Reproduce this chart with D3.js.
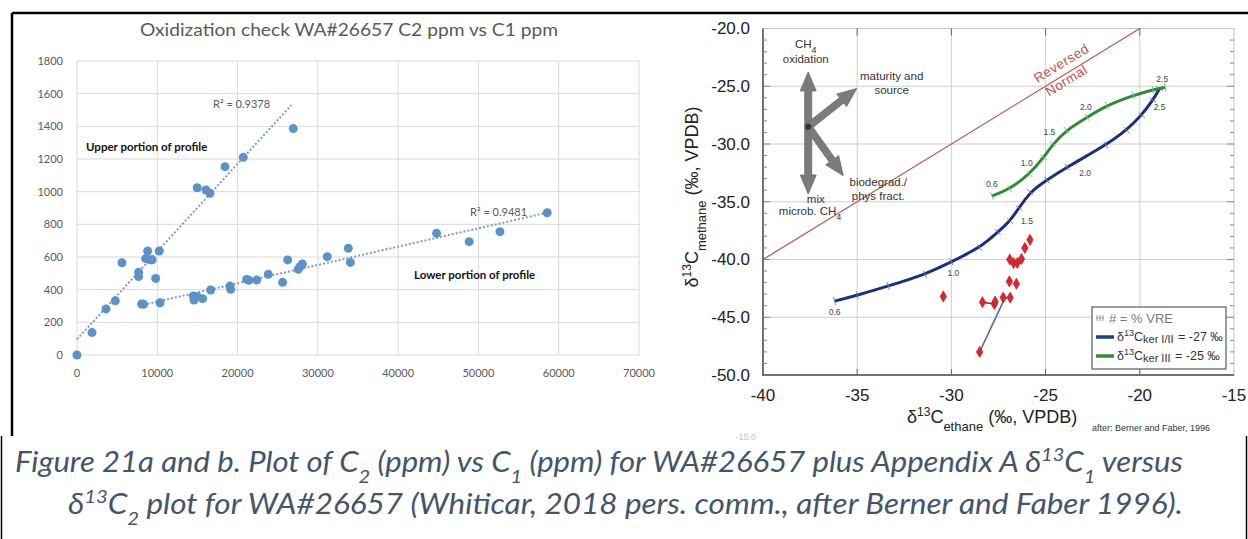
<!DOCTYPE html>
<html>
<head>
<meta charset="utf-8">
<script src="https://cdn.jsdelivr.net/npm/d3@7"></script>
<style>
  body { margin: 0; background: #fff; }
  svg { display: block; }
</style>
</head>
<body>
<svg id="fig" width="1248" height="539"></svg>
<script>
// ---------- left chart: C2 ppm vs C1 ppm ----------
const upperC1 = [0, 1870, 3610, 4770, 5600, 7680, 7680, 8800, 8550, 9050, 9350, 9800, 10250, 14970, 16060, 16560, 18430, 20710, 26940];
const upperC2 = [0, 137, 282, 332, 565, 506, 480, 637, 590, 583, 583, 469, 637, 1024, 1010, 990, 1153, 1210, 1386];
const lowerC1 = [8050, 8300, 10340, 14490, 14570, 14980, 15650, 16650, 19050, 19140, 21130, 21400, 22380, 23830, 25610, 26240, 27560, 27770, 28060, 31170, 33790, 34050, 44790, 48850, 52680, 58570];
const lowerC2 = [312, 310, 320, 361, 337, 357, 345, 398, 422, 402, 463, 457, 459, 494, 445, 582, 525, 541, 557, 602, 653, 567, 745, 694, 755, 871];
const upperTrendC1 = [0, 26700], upperTrendC2 = [96, 1530];
const lowerTrendC1 = [8300, 58600], lowerTrendC2 = [308, 872];
const leftXTicks = [0, 10000, 20000, 30000, 40000, 50000, 60000, 70000];
const leftYTicks = [0, 200, 400, 600, 800, 1000, 1200, 1400, 1600, 1800];

// ---------- right chart: d13C methane vs d13C ethane ----------
const keroIC2 = [-36.2, -35.0, -33.35, -31.4, -30.0, -28.5, -27.53, -26.89, -26.41, -25.83, -24.93, -23.86, -21.8, -20.7, -19.9, -19.3, -18.95];
const keroIC1 = [-43.6, -43.1, -42.3, -41.3, -40.2, -39.0, -37.62, -36.67, -35.54, -34.16, -33.12, -31.99, -30.1, -28.8, -27.5, -26.2, -25.2];
const keroIIIC2 = [-27.85, -26.9, -25.85, -25.1, -24.6, -23.9, -22.8, -21.75, -20.35, -19.3, -18.65];
const keroIIIC1 = [-34.5, -33.9, -32.6, -31.15, -30.0, -28.8, -27.7, -26.65, -25.8, -25.3, -25.1];
const keroIVre = ["0.6", "1.0", "1.5", "2.0", "2.5"], keroIVreIdx = [0, 4, 7, 11, 16];
const keroIIIVre = ["0.6", "1.0", "1.5", "2.0", "2.5"], keroIIIVreIdx = [0, 3, 5, 7, 10];
const sampleC2 = [-30.43, -28.5, -28.35, -27.72, -27.68, -27.25, -26.88, -26.92, -26.55, -26.9, -26.7, -26.5, -26.28, -26.1, -25.83];
const sampleC1 = [-43.2, -48.0, -43.7, -43.85, -43.65, -43.3, -43.3, -41.9, -42.1, -40.0, -40.3, -40.3, -39.95, -39.0, -38.3];
const sampleLinkC2 = [-28.5, -27.15], sampleLinkC1 = [-48.0, -43.3];
const rightXTicks = [-40, -35, -30, -25, -20, -15];
const rightYTicks = [-20, -25, -30, -35, -40, -45, -50];

const svg = d3.select("#fig");
const grey = "#595959";

// ================= LEFT CHART =================
const xL = d3.scaleLinear().domain([0, 70000]).range([77, 639]);
const yL = d3.scaleLinear().domain([0, 1800]).range([355, 61]);
const gL = svg.append("g");

gL.append("g").selectAll("line").data(leftYTicks).join("line")
  .attr("x1", xL(0)).attr("x2", xL(70000))
  .attr("y1", d => yL(d)).attr("y2", d => yL(d))
  .attr("stroke", "#d9d9d9").attr("stroke-width", 1);
gL.append("g").selectAll("line").data(leftXTicks).join("line")
  .attr("x1", d => xL(d)).attr("x2", d => xL(d))
  .attr("y1", yL(0)).attr("y2", yL(1800))
  .attr("stroke", "#d9d9d9").attr("stroke-width", 1);

gL.append("g").selectAll("text").data(leftYTicks).join("text")
  .attr("x", 63).attr("y", d => yL(d)).attr("dy", "0.35em")
  .attr("text-anchor", "end")
  .style("font", "11px Lato").attr("fill", grey)
  .text(d => d);
gL.append("g").selectAll("text").data(leftXTicks).join("text")
  .attr("x", d => xL(d)).attr("y", 373).attr("dy", "0.35em")
  .attr("text-anchor", "middle")
  .style("font", "11px Lato").attr("fill", grey)
  .text(d => d);

gL.append("text")
  .attr("x", 349).attr("y", 36).attr("text-anchor", "middle")
  .attr("textLength", 418).attr("lengthAdjust", "spacingAndGlyphs")
  .style("font", "17px Lato").attr("fill", grey)
  .text("Oxidization check WA#26657 C2 ppm vs C1 ppm");

const trendLine = d3.line().x(d => xL(d[0])).y(d => yL(d[1]));
[[upperTrendC1, upperTrendC2], [lowerTrendC1, lowerTrendC2]].forEach(([a, b]) => {
  gL.append("path")
    .attr("d", trendLine(d3.zip(a, b)))
    .attr("fill", "none").attr("stroke", "#7c9cc0")
    .attr("stroke-width", 2).attr("stroke-dasharray", "2,2");
});

const leftPts = d3.zip(upperC1, upperC2).concat(d3.zip(lowerC1, lowerC2));
gL.append("g").selectAll("circle").data(leftPts).join("circle")
  .attr("cx", d => xL(d[0])).attr("cy", d => yL(d[1])).attr("r", 4.5)
  .attr("fill", "#5b93c9");

gL.append("text").attr("x", 213).attr("y", 108)
  .style("font", "11px Lato").attr("fill", grey).text("R² = 0.9378");
gL.append("text").attr("x", 470).attr("y", 216)
  .style("font", "11px Lato").attr("fill", grey).text("R² = 0.9481");
gL.append("text").attr("x", 86).attr("y", 151)
  .style("font", "bold 11.5px Lato").attr("fill", "#111").text("Upper portion of profile");
gL.append("text").attr("x", 414).attr("y", 279)
  .style("font", "bold 11.5px Lato").attr("fill", "#111").text("Lower portion of profile");

// ================= RIGHT CHART =================
const xR = d3.scaleLinear().domain([-40, -15]).range([763, 1234]);
const yR = d3.scaleLinear().domain([-50, -20]).range([375, 28.5]);
const gR = svg.append("g");
const arial = "'Liberation Sans', Arial, sans-serif";

// grid
gR.append("g").selectAll("line").data([-35, -30, -25, -20]).join("line")
  .attr("x1", d => xR(d)).attr("x2", d => xR(d))
  .attr("y1", yR(-50)).attr("y2", yR(-20))
  .attr("stroke", "#cfcfd4");
gR.append("g").selectAll("line").data([-25, -30, -35, -40, -45]).join("line")
  .attr("x1", xR(-40)).attr("x2", xR(-15))
  .attr("y1", d => yR(d)).attr("y2", d => yR(d))
  .attr("stroke", "#cfcfd4");

// frame
gR.append("rect")
  .attr("x", xR(-40)).attr("y", yR(-20))
  .attr("width", xR(-15) - xR(-40)).attr("height", yR(-50) - yR(-20))
  .attr("fill", "none").attr("stroke", "#c4c4c8");
gR.append("path")
  .attr("d", `M${xR(-40)},${yR(-20)}V${yR(-50)}H${xR(-15)}`)
  .attr("fill", "none").attr("stroke", "#707078").attr("stroke-width", 2);

// minor ticks, left and right sides
const minorY = d3.range(-49, -20, 1);
gR.append("g").selectAll("line").data(minorY).join("line")
  .attr("x1", xR(-40)).attr("x2", d => xR(-40) + (d % 5 === 0 ? 7 : 4))
  .attr("y1", d => yR(d)).attr("y2", d => yR(d))
  .attr("stroke", "#888");
gR.append("g").selectAll("line").data(minorY).join("line")
  .attr("x1", xR(-15)).attr("x2", d => xR(-15) - (d % 5 === 0 ? 7 : 4))
  .attr("y1", d => yR(d)).attr("y2", d => yR(d))
  .attr("stroke", "#888");
// major ticks top and bottom
gR.append("g").selectAll("line").data([-35, -30, -25, -20]).join("line")
  .attr("x1", d => xR(d)).attr("x2", d => xR(d))
  .attr("y1", yR(-20)).attr("y2", yR(-20) + 7).attr("stroke", "#666");
gR.append("g").selectAll("line").data([-35, -30, -25, -20]).join("line")
  .attr("x1", d => xR(d)).attr("x2", d => xR(d))
  .attr("y1", yR(-50)).attr("y2", yR(-50) - 6).attr("stroke", "#666");

// tick labels (plain hyphen minus, as in the source figure)
gR.append("g").selectAll("text").data(rightYTicks).join("text")
  .attr("x", 750).attr("y", d => yR(d)).attr("dy", "0.35em")
  .attr("text-anchor", "end")
  .style("font", `17px ${arial}`).attr("fill", "#222")
  .text(d => d.toFixed(1));
gR.append("g").selectAll("text").data(rightXTicks).join("text")
  .attr("x", d => xR(d)).attr("y", 401).attr("text-anchor", "middle")
  .style("font", `17px ${arial}`).attr("fill", "#222")
  .text(d => d);
// faint remnant of a tick label peeking below the image
svg.append("text")
  .attr("x", 756).attr("y", 440).attr("text-anchor", "end")
  .style("font", `9px ${arial}`).attr("fill", "#c4c4c4").text("-15.0");

// axis titles with super/subscripts
function richText(g, parts) {
  parts.forEach(p => {
    const t = g.append("tspan").text(p.t);
    if (p.sup) t.attr("baseline-shift", "super").style("font-size", "12px");
    if (p.sub) t.attr("baseline-shift", "sub").style("font-size", "13px");
  });
}
const xTitle = gR.append("text").attr("x", 907).attr("y", 423)
  .style("font", `18px ${arial}`).attr("fill", "#222");
richText(xTitle, [{t: "δ"}, {t: "13", sup: true}, {t: "C"}, {t: "ethane", sub: true}, {t: " (‰, VPDB)"}]);
gR.append("text").attr("x", 1092).attr("y", 431)
  .style("font", `9px ${arial}`).attr("fill", "#333")
  .text("after: Berner and Faber, 1996");
const yTitle = gR.append("text")
  .attr("transform", "translate(698,197) rotate(-90)")
  .attr("text-anchor", "middle")
  .style("font", `18px ${arial}`).attr("fill", "#222");
richText(yTitle, [{t: "δ"}, {t: "13", sup: true}, {t: "C"}, {t: "methane", sub: true}, {t: " (‰, VPDB)"}]);

// 1:1 boundary line
gR.append("line")
  .attr("x1", xR(-40)).attr("y1", yR(-40)).attr("x2", xR(-20)).attr("y2", yR(-20))
  .attr("stroke", "#b5524f").attr("stroke-width", 1.2);
const ang = Math.atan2(yR(-20) - yR(-40), xR(-20) - xR(-40)) * 180 / Math.PI;
[["Reversed", -24.17, -23.0], ["Normal", -23.9, -24.5]].forEach(([t, x, y]) => {
  gR.append("text")
    .attr("transform", `translate(${xR(x)},${yR(y)}) rotate(${ang})`)
    .attr("text-anchor", "middle").attr("dy", "0.35em")
    .style("font", `13.5px ${arial}`).style("letter-spacing", "0.5px").attr("fill", "#c0504d")
    .text(t);
});

// arrow diagram
const arrowCenter = [-37.6, -28.5];
const arrowTips = [[-37.6, -23.76], [-37.6, -34.33], [-35.03, -25.2], [-35.74, -32.74]];
function arrowPath(x0, y0, x1, y1, shaft, head, headLen) {
  const dx = x1 - x0, dy = y1 - y0, L = Math.hypot(dx, dy);
  const ux = dx / L, uy = dy / L, nx = -uy, ny = ux;
  const bx = x1 - ux * headLen, by = y1 - uy * headLen;
  const p = [
    [x0 + nx * shaft / 2, y0 + ny * shaft / 2],
    [bx + nx * shaft / 2, by + ny * shaft / 2],
    [bx + nx * head / 2, by + ny * head / 2],
    [x1, y1],
    [bx - nx * head / 2, by - ny * head / 2],
    [bx - nx * shaft / 2, by - ny * shaft / 2],
    [x0 - nx * shaft / 2, y0 - ny * shaft / 2]
  ];
  return "M" + p.map(q => q.join(",")).join("L") + "Z";
}
arrowTips.forEach(tp => {
  gR.append("path")
    .attr("d", arrowPath(xR(arrowCenter[0]), yR(arrowCenter[1]), xR(tp[0]), yR(tp[1]), 7, 16, 19))
    .attr("fill", "#7b7b7b").attr("stroke", "#6a6a6a").attr("stroke-width", 0.8);
});
gR.append("circle").attr("cx", xR(arrowCenter[0])).attr("cy", yR(arrowCenter[1]))
  .attr("r", 3).attr("fill", "#333");

const diagLabels = [
  {t: "CH", s: "4", x: -37.73, y: -21.3},
  {t: "oxidation", x: -37.73, y: -22.67},
  {t: "maturity and", x: -33.17, y: -24.12},
  {t: "source", x: -33.17, y: -25.28},
  {t: "biodegrad./", x: -33.88, y: -33.3},
  {t: "phys fract.", x: -33.88, y: -34.46},
  {t: "mix", x: -37.2, y: -34.75},
  {t: "microb. CH", s: "4", x: -37.5, y: -35.76}
];
diagLabels.forEach(d => {
  const t = gR.append("text")
    .attr("x", xR(d.x)).attr("y", yR(d.y)).attr("dy", "0.35em")
    .attr("text-anchor", "middle")
    .style("font", `11.5px ${arial}`).attr("fill", "#333")
    .text(d.t);
  if (d.s) t.append("tspan").attr("baseline-shift", "sub").style("font-size", "9px").text(d.s);
});

// kerogen maturity curves
const curve = d3.line().x(d => xR(d[0])).y(d => yR(d[1])).curve(d3.curveBasis);
function drawKero(c2, c1, color, tickColor, labels, idx, offs) {
  const pts = d3.zip(c2, c1);
  gR.append("path").attr("d", curve(pts))
    .attr("fill", "none").attr("stroke", color).attr("stroke-width", 3);
  pts.forEach((p, i) => {
    const a = pts[Math.max(0, i - 1)], b = pts[Math.min(pts.length - 1, i + 1)];
    const dx = xR(b[0]) - xR(a[0]), dy = yR(b[1]) - yR(a[1]), L = Math.hypot(dx, dy);
    const nx = -dy / L * 4, ny = dx / L * 4;
    gR.append("line")
      .attr("x1", xR(p[0]) - nx).attr("y1", yR(p[1]) - ny)
      .attr("x2", xR(p[0]) + nx).attr("y2", yR(p[1]) + ny)
      .attr("stroke", tickColor).attr("stroke-width", 1);
  });
  labels.forEach((l, k) => {
    const p = pts[idx[k]];
    gR.append("text")
      .attr("x", xR(p[0]) + offs[k][0]).attr("y", yR(p[1]) + offs[k][1]).attr("dy", "0.35em")
      .attr("text-anchor", "middle")
      .style("font", `8.5px ${arial}`).attr("fill", "#444")
      .text(l);
  });
}
drawKero(keroIC2, keroIC1, "#1b2f7e", "#6a7fc0", keroIVre, keroIVreIdx,
  [[0, 11], [2, 11], [17, 0], [18, 6], [0, 18]]);
drawKero(keroIIIC2, keroIIIC1, "#2f8a36", "#7bc07f", keroIIIVre, keroIIIVreIdx,
  [[0, -12], [-17, 6], [-17, 2], [-21, 2], [-3, -8]]);

// samples
gR.append("path")
  .attr("d", d3.line().x(d => xR(d[0])).y(d => yR(d[1]))(d3.zip(sampleLinkC2, sampleLinkC1)))
  .attr("stroke", "#4f6f9f").attr("stroke-width", 1.6);
[[2, 3], [5, 6]].forEach(([a, b]) => {
  gR.append("line")
    .attr("x1", xR(sampleC2[a])).attr("y1", yR(sampleC1[a]))
    .attr("x2", xR(sampleC2[b])).attr("y2", yR(sampleC1[b]))
    .attr("stroke", "#8a1c1c").attr("stroke-width", 1.4);
});
gR.append("g").selectAll("path").data(d3.zip(sampleC2, sampleC1)).join("path")
  .attr("transform", d => `translate(${xR(d[0])},${yR(d[1])})`)
  .attr("d", d3.symbol(d3.symbolDiamond, 36))
  .attr("fill", "#e3232a").attr("stroke", "#a51d1d").attr("stroke-width", 0.6);

// legend
const lg = gR.append("g").attr("transform", "translate(1092,307)");
lg.append("rect").attr("width", 134).attr("height", 62)
  .attr("fill", "#fff").attr("stroke", "#5a5a5a").attr("stroke-width", 1.2);
lg.append("line").attr("x1", 4).attr("x2", 12).attr("y1", 11).attr("y2", 11).attr("stroke", "#999");
[5, 8, 11].forEach(x => lg.append("line").attr("x1", x).attr("x2", x).attr("y1", 8).attr("y2", 14).attr("stroke", "#999"));
lg.append("text").attr("x", 17).attr("y", 11).attr("dy", "0.35em")
  .style("font", `13px ${arial}`).attr("fill", "#777").text("# = % VRE");
[["#1b3f8a", "I/II", "-27"], ["#3a8a3a", "III", "-25"]].forEach(([c, k, v], i) => {
  const y = 30 + i * 19;
  lg.append("line").attr("x1", 4).attr("x2", 22).attr("y1", y).attr("y2", y)
    .attr("stroke", c).attr("stroke-width", 3.5);
  const t = lg.append("text").attr("x", 25).attr("y", y).attr("dy", "0.3em")
    .style("font", `12.5px ${arial}`).attr("fill", "#333");
  t.append("tspan").text("δ");
  t.append("tspan").attr("baseline-shift", "super").style("font-size", "9px").text("13");
  t.append("tspan").text("C");
  t.append("tspan").attr("baseline-shift", "-2").style("font-size", "11px").text("ker " + k);
  t.append("tspan").attr("dx", 1).text(` = ${v} ‰`);
});

// ================= FRAME + CAPTION =================
svg.append("path").attr("d", "M12,13H1248M12,13V436")
  .attr("stroke", "#000").attr("stroke-width", 2.5).attr("fill", "none");
svg.append("path").attr("d", "M1.5,436V539M1246.5,436V539")
  .attr("stroke", "#000").attr("stroke-width", 1.5).attr("fill", "none");

const capFont = "italic 28px Lato";
const capColor = "#44546a";
function caption(x, y, len, parts) {
  const t = svg.append("text").attr("x", x).attr("y", y)
    .attr("textLength", len).attr("lengthAdjust", "spacingAndGlyphs")
    .style("font", capFont).attr("fill", capColor);
  parts.forEach(p => {
    const s = t.append("tspan").text(p.t);
    if (p.sup) s.attr("baseline-shift", "super").style("font-size", "18px");
    if (p.sub) s.attr("baseline-shift", "sub").style("font-size", "18px");
  });
}
caption(15, 472, 1168, [
  {t: "Figure 21a and b. Plot of C"}, {t: "2", sub: true}, {t: " (ppm) vs C"}, {t: "1", sub: true},
  {t: " (ppm) for WA#26657 plus Appendix A δ"}, {t: "13", sup: true}, {t: "C"}, {t: "1", sub: true}, {t: " versus"}
]);
caption(68, 514, 1115, [
  {t: "δ"}, {t: "13", sup: true}, {t: "C"}, {t: "2", sub: true},
  {t: " plot for WA#26657 (Whiticar, 2018 pers. comm., after Berner and Faber 1996)."}
]);
</script>
</body>
</html>
